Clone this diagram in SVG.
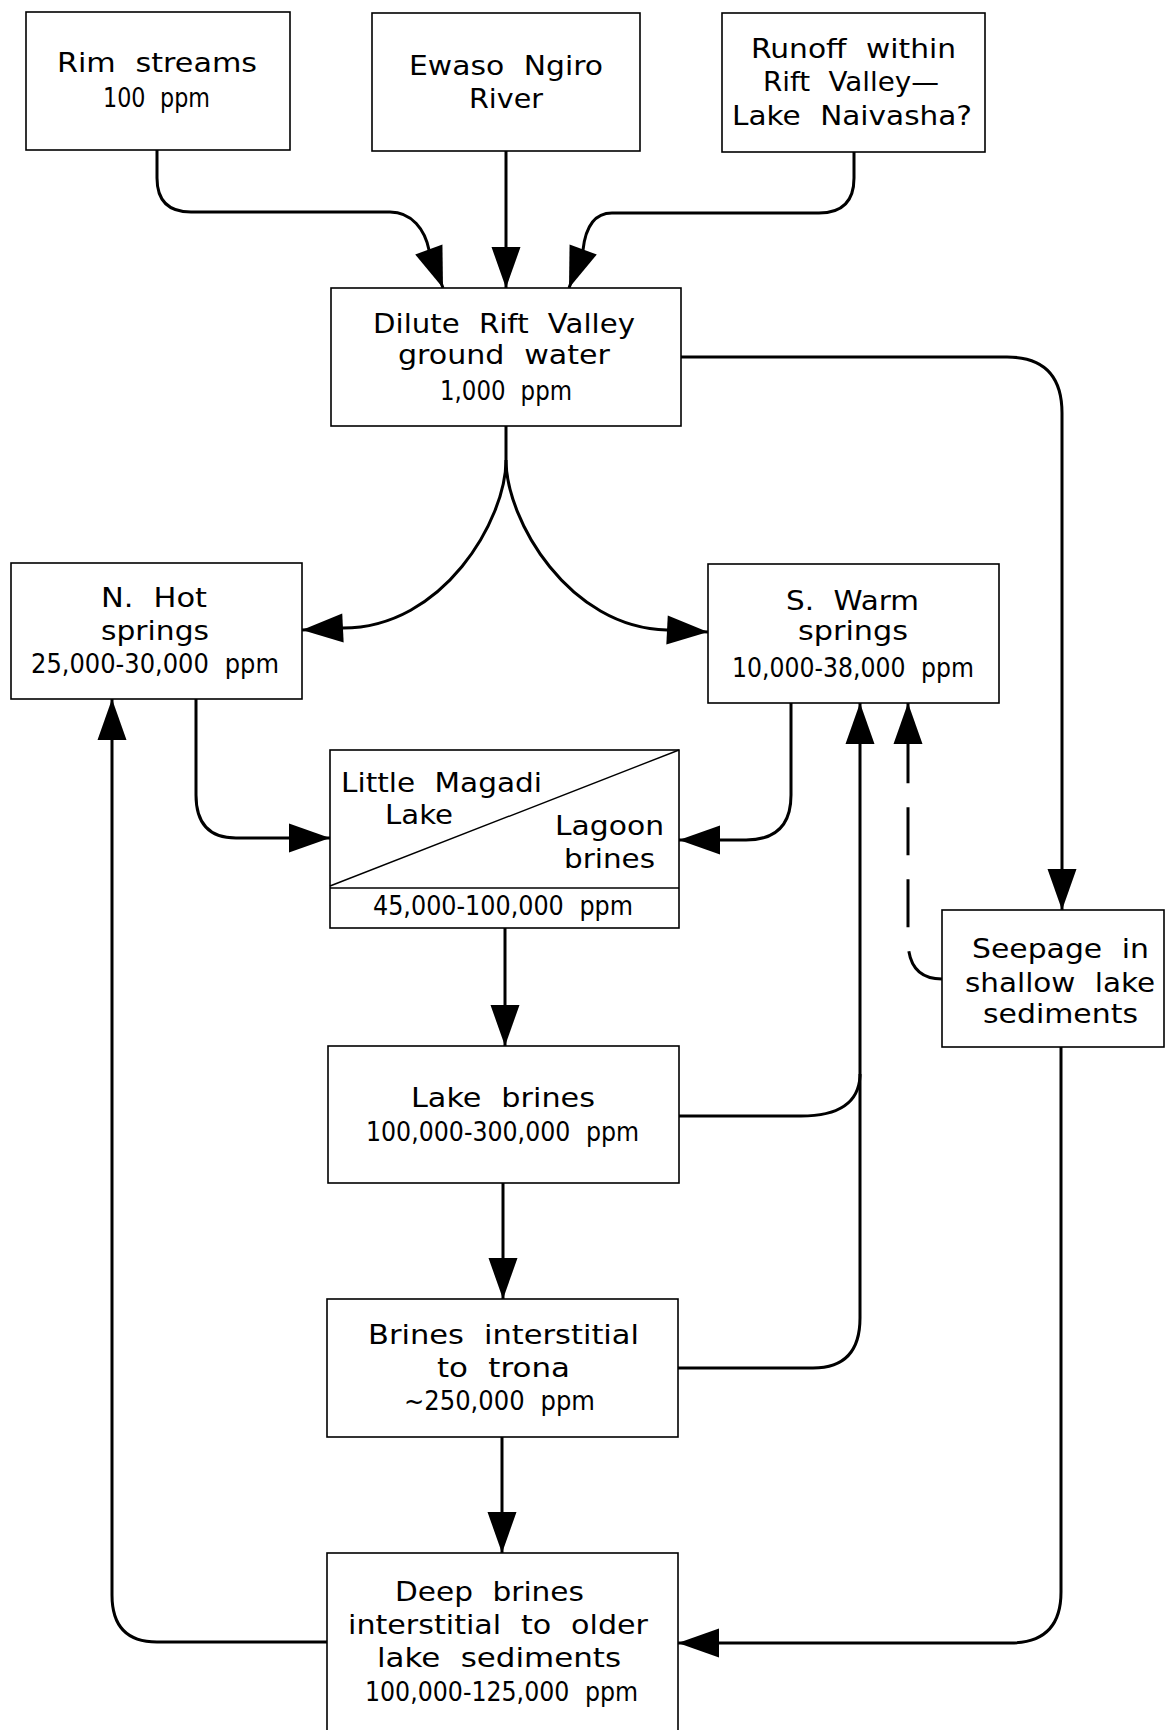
<svg xmlns="http://www.w3.org/2000/svg" width="1166" height="1730" viewBox="0 0 1166 1730">
<style>
.box{fill:#fff;stroke:#000;stroke-width:1.6}
.thin{fill:none;stroke:#000;stroke-width:1.4}
.c{fill:none;stroke:#000;stroke-width:3;marker-end:url(#ah)}
.cn{fill:none;stroke:#000;stroke-width:3}
.d{stroke-dasharray:48 24}
text{font-family:"DejaVu Sans","Liberation Sans",sans-serif;font-size:26.5px;fill:#000;word-spacing:9px}
</style>
<defs>
<marker id="ah" viewBox="-42 -16 44 32" refX="0" refY="0" markerWidth="44" markerHeight="32" markerUnits="userSpaceOnUse" orient="auto">
<path d="M0,0 L-41,-14.5 L-41,14.5 Z" fill="#000"/>
</marker>
</defs>
<rect width="1166" height="1730" fill="#fff"/>

<g id="connectors">
<path class="c" d="M157,150 V178 Q157,212 191,212 H390 C412,212 425,230 429,250 L443,288"/>
<path class="c" d="M506,151 V288"/>
<path class="c" d="M854,152 V178 Q854,213 819,213 H612 C592,213 585,232 583,250 L569,288"/>
<path class="c" d="M506,426 V460 C506,520 443,628 343,628 L302,630"/>
<path class="c" d="M506,460 C506,520 569,628 667,630 L708,632"/>
<path class="c" d="M681,357 H1007 Q1062,357 1062,413 V910"/>
<path class="c" d="M196,699 V795 Q196,838 236,838 H330"/>
<path class="c" d="M791,703 V795 Q791,840 746,840 H679"/>
<path class="c" d="M505,928 V1046"/>
<path class="c" d="M679,1116 H801 Q858,1116 860,1076 V703"/>
<path class="cn" d="M678,1368 H813 Q860,1368 860,1318 V1074"/>
<path class="c d" d="M942,979 Q908,979 908,940 V703"/>
<path class="c" d="M503,1183 V1299"/>
<path class="c" d="M502,1437 V1553"/>
<path class="c" d="M327,1642 H157 Q112,1642 112,1595 V699"/>
<path class="c" d="M1061,1047 V1592 Q1061,1643 1010,1643 H678"/>
</g>

<g id="rim">
<rect class="box" x="26" y="12" width="264" height="138"/>
<text x="57" y="72" textLength="200" lengthAdjust="spacingAndGlyphs">Rim streams</text>
<text x="103" y="107" textLength="107" lengthAdjust="spacingAndGlyphs">100 ppm</text>
</g>

<g id="ewaso">
<rect class="box" x="372" y="13" width="268" height="138"/>
<text x="409" y="75" textLength="194" lengthAdjust="spacingAndGlyphs">Ewaso Ngiro</text>
<text x="469" y="108" textLength="74" lengthAdjust="spacingAndGlyphs">River</text>
</g>

<g id="runoff">
<rect class="box" x="722" y="13" width="263" height="139"/>
<text x="751" y="58" textLength="205" lengthAdjust="spacingAndGlyphs">Runoff within</text>
<text x="763" y="91" textLength="176" lengthAdjust="spacingAndGlyphs">Rift Valley—</text>
<text x="732" y="125" textLength="240" lengthAdjust="spacingAndGlyphs">Lake Naivasha?</text>
</g>

<g id="dilute">
<rect class="box" x="331" y="288" width="350" height="138"/>
<text x="373" y="333" textLength="262" lengthAdjust="spacingAndGlyphs">Dilute Rift Valley</text>
<text x="398" y="364" textLength="212" lengthAdjust="spacingAndGlyphs">ground water</text>
<text x="440" y="400" textLength="132" lengthAdjust="spacingAndGlyphs">1,000 ppm</text>
</g>

<g id="nhot">
<rect class="box" x="11" y="563" width="291" height="136"/>
<text x="101" y="607" textLength="106" lengthAdjust="spacingAndGlyphs">N. Hot</text>
<text x="101" y="640" textLength="108" lengthAdjust="spacingAndGlyphs">springs</text>
<text x="31" y="673" textLength="248" lengthAdjust="spacingAndGlyphs">25,000-30,000 ppm</text>
</g>

<g id="swarm">
<rect class="box" x="708" y="564" width="291" height="139"/>
<text x="786" y="610" textLength="133" lengthAdjust="spacingAndGlyphs">S. Warm</text>
<text x="798" y="640" textLength="110" lengthAdjust="spacingAndGlyphs">springs</text>
<text x="732" y="677" textLength="242" lengthAdjust="spacingAndGlyphs">10,000-38,000 ppm</text>
</g>

<g id="magadi">
<rect class="box" x="330" y="750" width="349" height="178"/>
<line class="thin" x1="330" y1="888" x2="679" y2="888"/>
<line class="thin" x1="330" y1="886" x2="679" y2="750"/>
<text x="341" y="792" textLength="201" lengthAdjust="spacingAndGlyphs">Little Magadi</text>
<text x="385" y="824" textLength="68" lengthAdjust="spacingAndGlyphs">Lake</text>
<text x="555" y="835" textLength="109" lengthAdjust="spacingAndGlyphs">Lagoon</text>
<text x="564" y="868" textLength="91" lengthAdjust="spacingAndGlyphs">brines</text>
<text x="373" y="915" textLength="260" lengthAdjust="spacingAndGlyphs">45,000-100,000 ppm</text>
</g>

<g id="seepage">
<rect class="box" x="942" y="910" width="222" height="137"/>
<text x="972" y="958" textLength="177" lengthAdjust="spacingAndGlyphs">Seepage in</text>
<text x="965" y="992" textLength="190" lengthAdjust="spacingAndGlyphs">shallow lake</text>
<text x="983" y="1023" textLength="155" lengthAdjust="spacingAndGlyphs">sediments</text>
</g>

<g id="lakebrines">
<rect class="box" x="328" y="1046" width="351" height="137"/>
<text x="411" y="1107" textLength="184" lengthAdjust="spacingAndGlyphs">Lake brines</text>
<text x="366" y="1141" textLength="273" lengthAdjust="spacingAndGlyphs">100,000-300,000 ppm</text>
</g>

<g id="trona">
<rect class="box" x="327" y="1299" width="351" height="138"/>
<text x="368" y="1344" textLength="271" lengthAdjust="spacingAndGlyphs">Brines interstitial</text>
<text x="437" y="1377" textLength="133" lengthAdjust="spacingAndGlyphs">to trona</text>
<text x="404" y="1410" textLength="191" lengthAdjust="spacingAndGlyphs">~250,000 ppm</text>
</g>

<g id="deep">
<rect class="box" x="327" y="1553" width="351" height="200"/>
<text x="395" y="1601" textLength="189" lengthAdjust="spacingAndGlyphs">Deep brines</text>
<text x="348" y="1634" textLength="300" lengthAdjust="spacingAndGlyphs">interstitial to older</text>
<text x="377" y="1667" textLength="244" lengthAdjust="spacingAndGlyphs">lake sediments</text>
<text x="365" y="1701" textLength="273" lengthAdjust="spacingAndGlyphs">100,000-125,000 ppm</text>
</g>
</svg>
